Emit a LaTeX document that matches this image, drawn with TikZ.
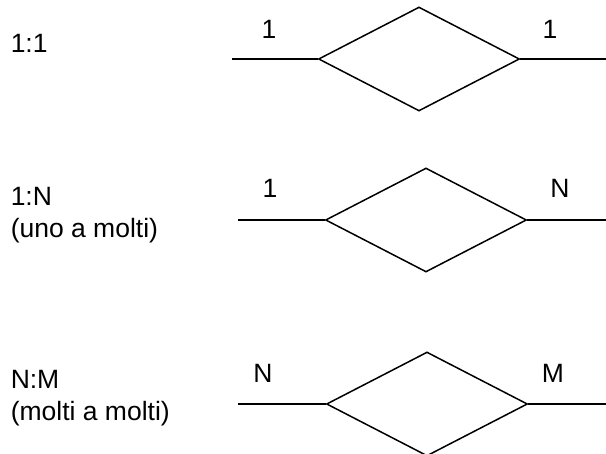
\documentclass[tikz,border=0pt]{standalone}
\usepackage{fontspec}
\setmainfont{Liberation Sans}
\usepackage{tikz}
\usetikzlibrary{shapes.geometric}

\tikzset{
  rel/.style={draw, diamond, inner sep=0pt, minimum width=201pt, minimum height=104pt},
  card/.style={anchor=base, inner sep=0pt},
  kind/.style={anchor=base west, align=left, inner sep=0pt}
}

\begin{document}
\begin{tikzpicture}[x=1pt, y=-1pt, line width=1.5pt, font=\fontsize{26.5}{32}\selectfont]

\useasboundingbox (0,0) rectangle (606,454);

\node [rel] (r1) at (419,59) {};
\node [rel] (r2) at (426,220) {};
\node [rel] (r3) at (427,404) {};

\coordinate (a1) at (232,59);
\coordinate (b1) at (606,59);
\coordinate (a2) at (238,220);
\coordinate (b2) at (606,220);
\coordinate (a3) at (238,404);
\coordinate (b3) at (606,404);

\foreach \i in {1,2,3}
    \draw (a\i) -- (r\i.west)  (r\i.east) -- (b\i);

\node [card] (c1a) at (269,39) {1};
\node [card] (c1b) at (550,39) {1};
\node [card] (c2a) at (270,198) {1};
\node [card] (c2b) at (560,198) {N};
\node [card] (c3a) at (263,383) {N};
\node [card] (c3b) at (553,383) {M};

% base of a two line node is the last line
\node [kind] (k1) at (10,53) {1:1};
\node [kind] (k2) at (10,238) {1:N\\(uno a molti)};
\node [kind] (k3) at (10,421) {N:M\\(molti a molti)};

\end{tikzpicture}
\end{document}
